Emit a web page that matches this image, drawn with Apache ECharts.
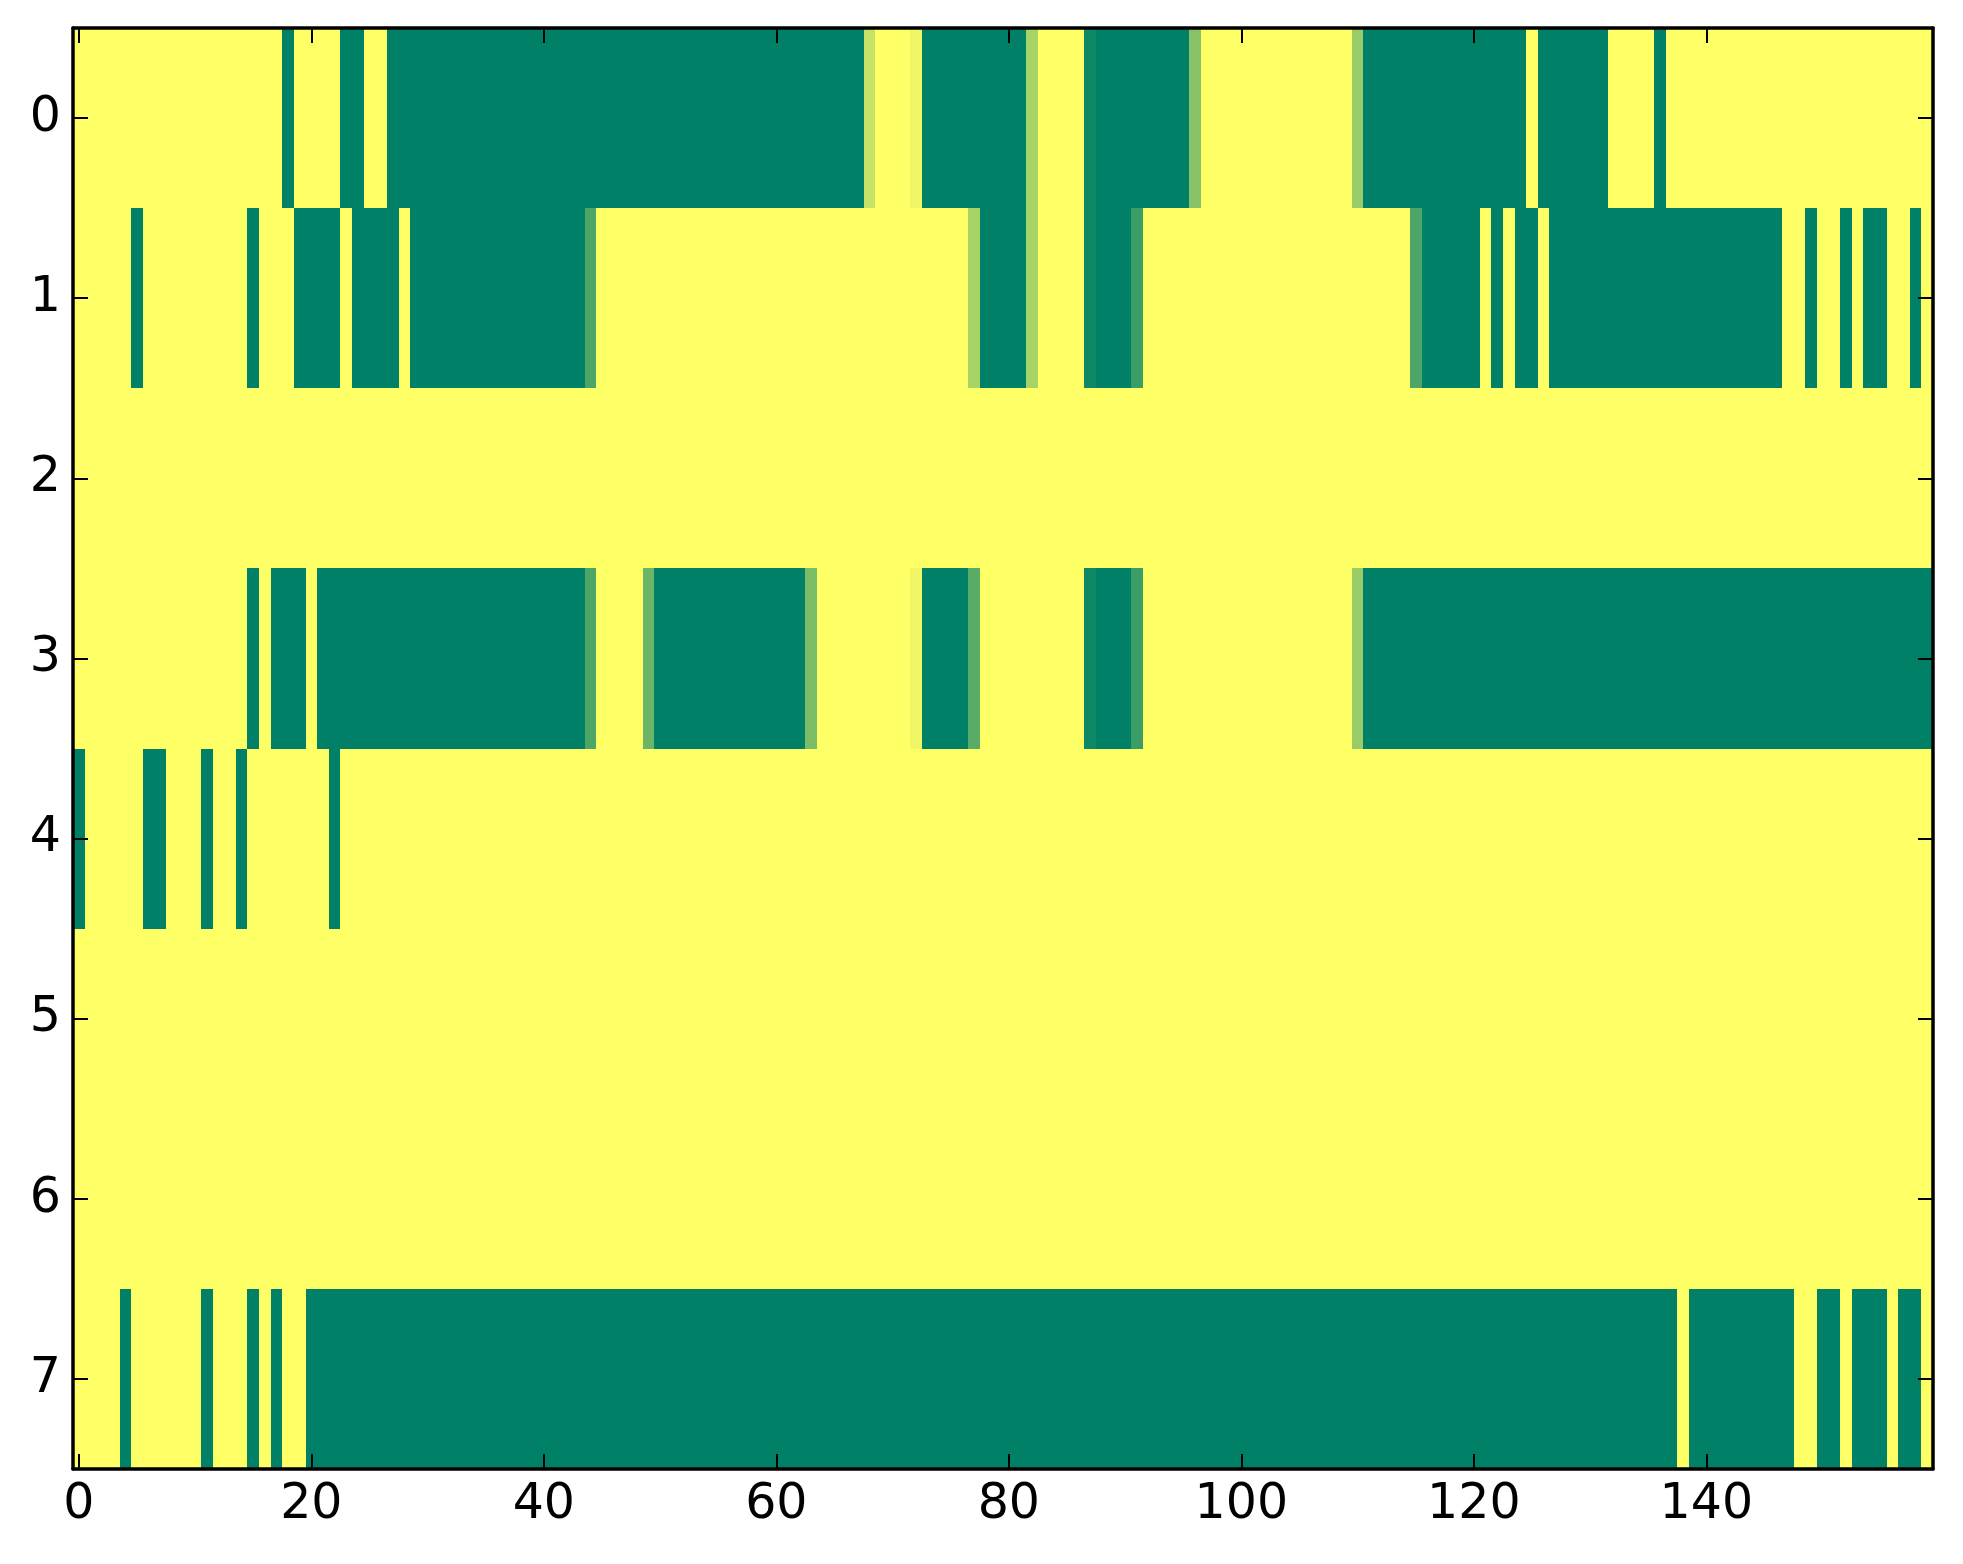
<!DOCTYPE html>
<html>
<head>
<meta charset="utf-8">
<script src="https://cdn.jsdelivr.net/npm/echarts@6/dist/echarts.min.js"></script>
<style>
  html, body { margin: 0; padding: 0; background: #fff; }
  #chart { width: 1963px; height: 1564px; }
</style>
</head>
<body>
<div id="chart"></div>
<script>
// one string per row, 160 cells, '1' = yellow (1.0), '0' = green (0.0)
const row0 = '1111111111 1111111101 1110011000 0000000000 0000000000 0000000000 0000000011 1110000000 0011111000 0000001111 1111111111 1000000000 0000010000 0011110111 1111111111 1111111111';
const row1 = '1111101111 1111101110 0001000010 0000000000 0000011111 1111111111 1111111111 1111111100 0011111000 0011111111 1111111111 1111100000 0101001000 0000000000 0000000110 1101001101';
const row2 = '1111111111 1111111111 1111111111 1111111111 1111111111 1111111111 1111111111 1111111111 1111111111 1111111111 1111111111 1111111111 1111111111 1111111111 1111111111 1111111111';
const row3 = '1111111111 1111101000 1000000000 0000000000 0000011110 0000000000 0000111111 1110000011 1111111000 0011111111 1111111111 1000000000 0000000000 0000000000 0000000000 0000000000';
const row4 = '0111110011 1011011111 1101111111 1111111111 1111111111 1111111111 1111111111 1111111111 1111111111 1111111111 1111111111 1111111111 1111111111 1111111111 1111111111 1111111111';
const row5 = '1111111111 1111111111 1111111111 1111111111 1111111111 1111111111 1111111111 1111111111 1111111111 1111111111 1111111111 1111111111 1111111111 1111111111 1111111111 1111111111';
const row6 = '1111111111 1111111111 1111111111 1111111111 1111111111 1111111111 1111111111 1111111111 1111111111 1111111111 1111111111 1111111111 1111111111 1111111111 1111111111 1111111111';
const row7 = '1111011111 1011101011 0000000000 0000000000 0000000000 0000000000 0000000000 0000000000 0000000000 0000000000 0000000000 0000000000 0000000000 0000000010 0000000011 0010001001';

// cells with in-between values: [row, col, value]
const partialCells = [
  [0, 68, 0.78], [0, 72, 0.94], [0, 82, 0.66], [0, 87, 0.06], [0, 96, 0.53], [0, 110, 0.6],
  [1, 44, 0.3], [1, 77, 0.66], [1, 82, 0.66], [1, 87, 0.06], [1, 91, 0.23], [1, 115, 0.3],
  [3, 44, 0.3], [3, 49, 0.42], [3, 63, 0.48], [3, 72, 0.94], [3, 77, 0.35], [3, 87, 0.06],
  [3, 91, 0.23], [3, 110, 0.6]
];

const rows = [row0, row1, row2, row3, row4, row5, row6, row7];
const nCols = 160;
const xCategories = [];
for (let i = 0; i < nCols; i++) xCategories.push(String(i));
const yCategories = ['0', '1', '2', '3', '4', '5', '6', '7'];

const grid = rows.map(r => r.replace(/ /g, '').split('').map(Number));
partialCells.forEach(([r, c, v]) => { grid[r][c] = v; });

const data = [];
grid.forEach((vals, r) => {
  vals.forEach((v, c) => data.push([c, r, v]));
});

const labelFont = { fontFamily: 'DejaVu Sans', fontSize: 49, color: '#000' };
const lineStyle = { color: '#000', width: 3.5 };
const tickStyle = { color: '#000', width: 2 };
const every20 = (idx) => idx % 20 === 0;

// cells drawn through the axes, snapped to whole pixels so no seams show
function renderCell(params, api) {
  const p = api.coord([api.value(0), api.value(1)]);
  const s = api.size([1, 1]);
  const x0 = Math.round(p[0] - s[0] / 2);
  const x1 = Math.round(p[0] + s[0] / 2);
  const y0 = Math.round(p[1] - s[1] / 2);
  const y1 = Math.round(p[1] + s[1] / 2);
  return {
    type: 'rect',
    shape: { x: x0, y: y0, width: x1 - x0, height: y1 - y0 },
    style: { fill: api.visual('color') }
  };
}

const chart = echarts.init(document.getElementById('chart'));
chart.setOption({
  backgroundColor: '#fff',
  animation: false,
  grid: { left: 73, top: 28, width: 1860, height: 1441 },
  visualMap: {
    show: false,
    min: 0,
    max: 1,
    dimension: 2,
    seriesIndex: 0,
    inRange: { color: ['#008066', '#ffff66'] }
  },
  xAxis: [
    {
      type: 'category',
      data: xCategories,
      position: 'bottom',
      zlevel: 1,
      axisLine: { lineStyle: lineStyle },
      axisTick: { show: true, inside: true, length: 15, alignWithLabel: true, interval: every20, lineStyle: tickStyle },
      axisLabel: Object.assign({ interval: every20, margin: 12 }, labelFont),
      splitLine: { show: false }
    },
    {
      type: 'category',
      data: xCategories,
      position: 'top',
      zlevel: 1,
      axisLine: { lineStyle: lineStyle },
      axisTick: { show: true, inside: true, length: 15, alignWithLabel: true, interval: every20, lineStyle: tickStyle },
      axisLabel: { show: false },
      splitLine: { show: false }
    }
  ],
  yAxis: [
    {
      type: 'category',
      data: yCategories,
      inverse: true,
      position: 'left',
      zlevel: 1,
      axisLine: { lineStyle: lineStyle },
      axisTick: { show: true, inside: true, length: 15, alignWithLabel: true, lineStyle: tickStyle },
      axisLabel: Object.assign({ margin: 12 }, labelFont),
      splitLine: { show: false }
    },
    {
      type: 'category',
      data: yCategories,
      inverse: true,
      position: 'right',
      zlevel: 1,
      axisLine: { lineStyle: lineStyle },
      axisTick: { show: true, inside: true, length: 15, alignWithLabel: true, lineStyle: tickStyle },
      axisLabel: { show: false },
      splitLine: { show: false }
    }
  ],
  series: [
    {
      type: 'custom',
      xAxisIndex: 0,
      yAxisIndex: 0,
      renderItem: renderCell,
      encode: { x: 0, y: 1 },
      clip: true,
      data: data
    }
  ]
});
</script>
</body>
</html>
